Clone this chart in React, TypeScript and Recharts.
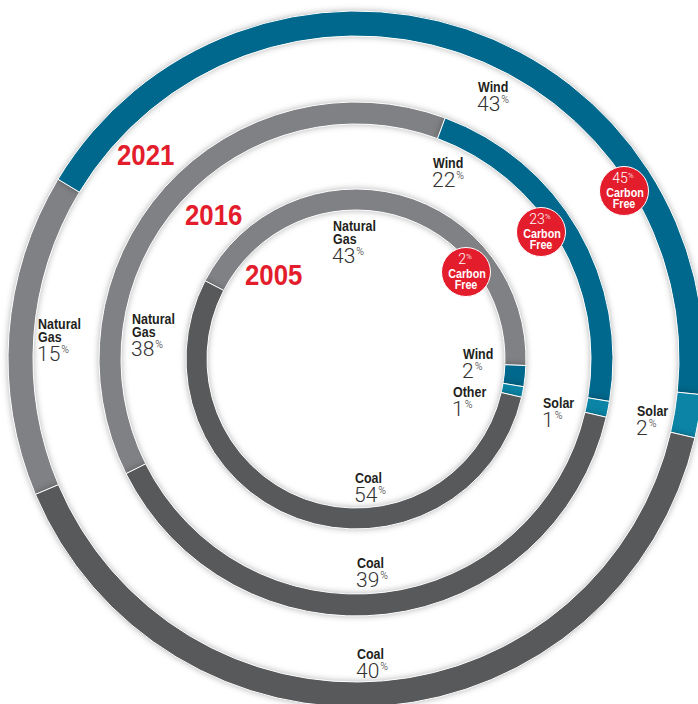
import React from "react";
import { PieChart, Pie, Cell } from "recharts";

// generation mix by year, shares in %
const years = ["2005", "2016", "2021"];
const fuels2005 = ["Natural Gas", "Wind", "Other", "Coal"];
const shares2005 = [43, 2, 1, 54];
const fuels2016 = ["Natural Gas", "Wind", "Solar", "Coal"];
const shares2016 = [38, 22, 1, 39];
const fuels2021 = ["Natural Gas", "Wind", "Solar", "Coal"];
const shares2021 = [15, 43, 2, 40];
const carbonFree = [2, 23, 45];

const fuelColors: Record<string, string> = {
  "Natural Gas": "#808184",
  Wind: "#00688c",
  Solar: "#0b84a6",
  Other: "#0b84a6",
  Coal: "#58595b",
};

const CX = 356;
const CY = 359;
const RED = "#e41d2d";
const BOLD = "'Liberation Sans', Arial, sans-serif";
const LIGHT = "Roboto, 'Liberation Sans', sans-serif";
const SQUEEZE = 0.86; // no condensed face installed, so squeeze Arial-metric bold

// ring geometry (inner -> outer), clockwise from the gas segment
const rings = [
  { fuels: fuels2005, shares: shares2005, inner: 149, outer: 170, start: 152.6 },
  { fuels: fuels2016, shares: shares2016, inner: 235, outer: 257, start: 206.5 },
  { fuels: fuels2021, shares: shares2021, inner: 323, outer: 348, start: 202.9 },
];

// text placement (first baseline of each label)
const labelSpots = [
  [[333, 231], [463, 359], [453, 397], [355, 483]],
  [[132, 324], [433, 168], [543, 408], [357, 568]],
  [[38, 329], [478, 92], [637, 416], [357, 659]],
];
const yearSpots = [[245, 285], [185, 225], [117, 165]];
const badgeSpots = [[466, 272], [541, 232], [624, 191]];

function Condensed({ x, y, size, fill, anchor = "start", children }: any) {
  return (
    <text
      transform={`translate(${x},${y}) scale(${SQUEEZE},1)`}
      textAnchor={anchor}
      fontFamily={BOLD}
      fontWeight="bold"
      fontSize={size}
      fill={fill}
    >
      {children}
    </text>
  );
}

function ShareLabel({ x, y, name, value }: { x: number; y: number; name: string; value: number }) {
  const lines = name.split(" ");
  const numY = y + (lines.length - 1) * 13 + 19;
  return (
    <g>
      {lines.map((l, i) => (
        <Condensed key={l} x={x} y={y + i * 13} size={14.5} fill="#231f20">
          {l}
        </Condensed>
      ))}
      <text x={x - 1} y={numY} fontFamily={LIGHT} fontWeight={300} fontSize={21} fill="#333">
        {value}
        <tspan fontSize={10.5} dx={1} dy={-8}>%</tspan>
      </text>
    </g>
  );
}

function Badge({ x, y, value }: { x: number; y: number; value: number }) {
  return (
    <g>
      <circle cx={x} cy={y} r={24.5} fill={RED} stroke="#fff" strokeWidth={1} />
      <text x={x - 1} y={y - 8} textAnchor="middle" fontFamily={LIGHT} fontWeight={300} fontSize={14} fill="#fff">
        {value}
        <tspan fontSize={8} dy={-5}>%</tspan>
      </text>
      <Condensed x={x + 1} y={y + 6} size={12.5} fill="#fff" anchor="middle">
        Carbon
      </Condensed>
      <Condensed x={x} y={y + 17} size={12.5} fill="#fff" anchor="middle">
        Free
      </Condensed>
    </g>
  );
}

export default function App() {
  return (
    <div style={{ position: "absolute", left: 0, top: 0, width: 698, height: 704, overflow: "hidden", background: "#fff" }}>
      <style>{`.ring .recharts-pie-sector { filter: drop-shadow(0px 0px 3px rgba(0,0,0,0.3)); }`}</style>
      <PieChart width={698} height={704} margin={{ top: 0, right: 0, bottom: 0, left: 0 }}>
        {rings.map((r, ri) => (
          <Pie
            key={years[ri]}
            className="ring"
            data={r.fuels.map((f, i) => ({ name: f, value: r.shares[i] }))}
            dataKey="value"
            nameKey="name"
            cx={CX}
            cy={CY}
            innerRadius={r.inner}
            outerRadius={r.outer}
            startAngle={r.start}
            endAngle={r.start - 360}
            stroke="#fff"
            strokeWidth={1}
            isAnimationActive={false}
          >
            {r.fuels.map((f) => (
              <Cell key={f} fill={fuelColors[f]} />
            ))}
          </Pie>
        ))}
      </PieChart>
      {/* annotation layer above the rings */}
      <svg width={698} height={704} style={{ position: "absolute", left: 0, top: 0, pointerEvents: "none" }}>
        {rings.map((r, ri) =>
          r.fuels.map((f, i) => (
            <ShareLabel
              key={years[ri] + f}
              x={labelSpots[ri][i][0]}
              y={labelSpots[ri][i][1]}
              name={f}
              value={r.shares[i]}
            />
          ))
        )}
        {years.map((yr, i) => (
          <Condensed key={yr} x={yearSpots[i][0]} y={yearSpots[i][1]} size={30} fill={RED}>
            {yr}
          </Condensed>
        ))}
        {carbonFree.map((v, i) => (
          <Badge key={years[i]} x={badgeSpots[i][0]} y={badgeSpots[i][1]} value={v} />
        ))}
      </svg>
    </div>
  );
}
